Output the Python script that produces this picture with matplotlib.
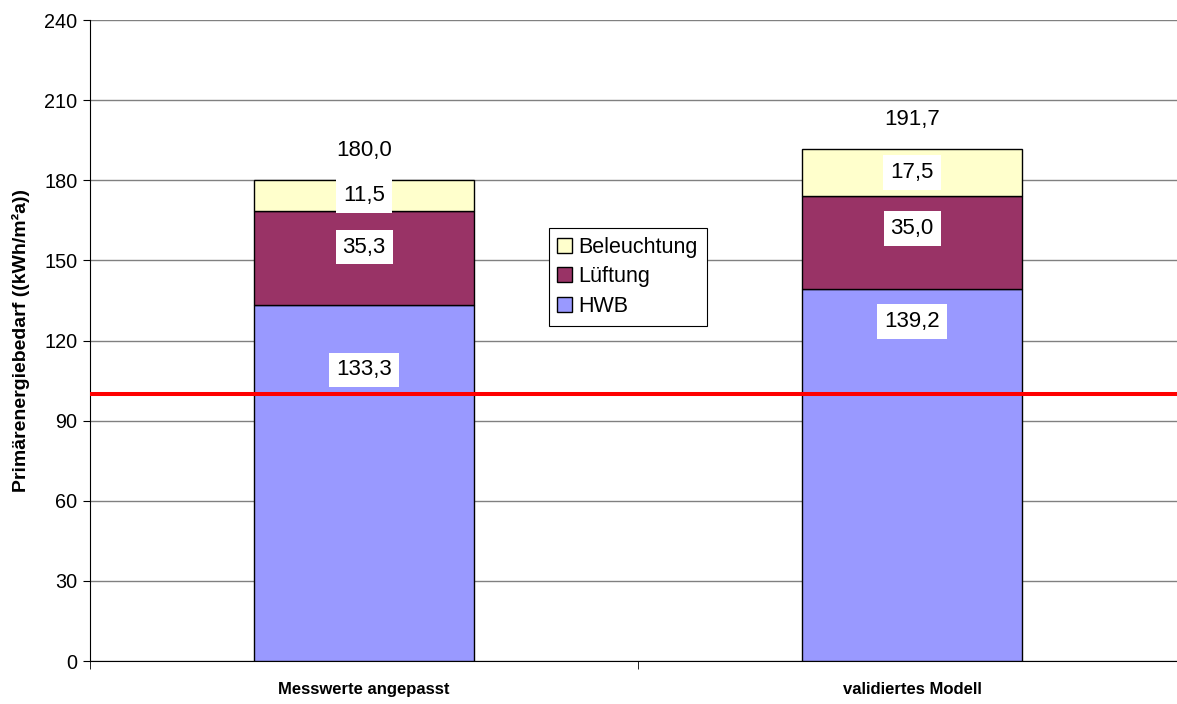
import matplotlib

matplotlib.use("Agg")
import matplotlib.pyplot as plt
from matplotlib.patches import Patch

plt.rcParams["font.family"] = ["Liberation Sans", "DejaVu Sans"]

CATEGORIES = ["Messwerte angepasst", "validiertes Modell"]
HWB = [133.3, 139.2]
LUEFTUNG = [35.3, 35.0]
BELEUCHTUNG = [11.5, 17.5]
TOTALS = [180.0, 191.7]
LIMIT = 100

# label anchor heights as placed in the original (not all at segment centre)
HWB_LABEL_Y = [109, 127]
LUEFTUNG_LABEL_Y = [155, 162]

COLORS = {"HWB": "#9999FF", "Lüftung": "#993366", "Beleuchtung": "#FFFFCC"}


def fmt(v):
    return f"{v:.1f}".replace(".", ",")


fig = plt.figure(figsize=(11.77, 7.04), dpi=100)
# plot area runs slightly past the right edge of the image, as in the original
ax = fig.add_axes([0.0765, 0.061, 0.9312, 0.9105])

x = list(range(len(CATEGORIES)))
w = 0.4
bottom2 = [a + b for a, b in zip(HWB, LUEFTUNG)]
ax.bar(x, HWB, w, color=COLORS["HWB"], edgecolor="black", linewidth=1, zorder=3)
ax.bar(x, LUEFTUNG, w, bottom=HWB, color=COLORS["Lüftung"], edgecolor="black", linewidth=1, zorder=3)
ax.bar(x, BELEUCHTUNG, w, bottom=bottom2, color=COLORS["Beleuchtung"], edgecolor="black", linewidth=1, zorder=3)

ax.axhline(LIMIT, color="#FF0000", linewidth=2.9, zorder=4)

box = dict(facecolor="white", edgecolor="none", pad=5)
fs = 16
for i in x:
    ax.text(i, HWB_LABEL_Y[i], fmt(HWB[i]), ha="center", va="center", fontsize=fs, bbox=box, zorder=5)
    ax.text(i, LUEFTUNG_LABEL_Y[i], fmt(LUEFTUNG[i]), ha="center", va="center", fontsize=fs, bbox=box, zorder=5)
    ax.text(i, bottom2[i] + BELEUCHTUNG[i] / 2, fmt(BELEUCHTUNG[i]), ha="center", va="center",
            fontsize=fs, bbox=box, zorder=5)
    ax.text(i, TOTALS[i] + 11, fmt(TOTALS[i]), ha="center", va="center", fontsize=fs, zorder=5)

ax.set_xlim(-0.5, 1.5)
ax.set_ylim(0, 240)
ax.set_yticks(range(0, 241, 30))
ax.tick_params(axis="y", labelsize=14.3, length=5, direction="out", pad=4)
ax.set_xticks(x)
ax.set_xticklabels(CATEGORIES, fontsize=12, fontweight="bold")
ax.tick_params(axis="x", length=0, pad=15)
ax.set_xticks([-0.5, 0.5, 1.5], minor=True)
ax.tick_params(axis="x", which="minor", length=6)
ax.grid(axis="y", color="#808080", linewidth=1, zorder=0)
ax.set_axisbelow(True)
for s in ["top", "right"]:
    ax.spines[s].set_visible(False)
ax.spines["left"].set_color("black")
ax.spines["bottom"].set_color("black")

ax.set_ylabel("Primärenergiebedarf ((kWh/m²a))", fontsize=14, fontweight="bold", labelpad=10)

handles = [Patch(facecolor=COLORS[k], edgecolor="black") for k in ["Beleuchtung", "Lüftung", "HWB"]]
leg = ax.legend(handles, ["Beleuchtung", "Lüftung", "HWB"], loc="upper left",
                bbox_to_anchor=(0.4183, 0.6755), fontsize=15.5, fancybox=False, framealpha=1,
                edgecolor="black", handlelength=0.7, handleheight=0.7, handletextpad=0.3,
                borderpad=0.4, labelspacing=0.4, borderaxespad=0)
leg.get_frame().set_linewidth(0.8)
leg.set_zorder(6)

fig.savefig("out.png", dpi=100)
